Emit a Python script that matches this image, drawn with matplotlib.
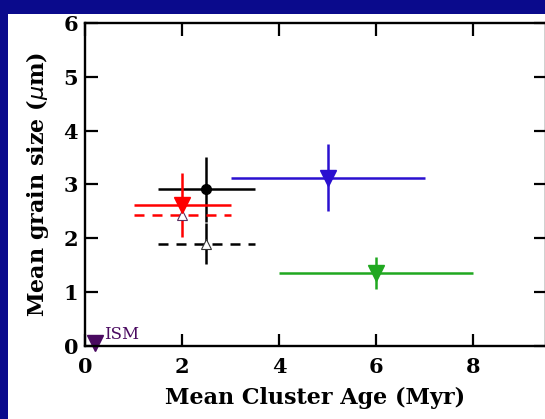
import matplotlib
matplotlib.use("Agg")
import matplotlib.pyplot as plt
from matplotlib.patches import Rectangle

# cluster data: age (Myr), age half-range, grain size (um), size error
blue_x, blue_xerr, blue_y, blue_yerr = 5.0, 2.0, 3.13, 0.62
green_x, green_xerr, green_y, green_yerr = 6.0, 2.0, 1.35, 0.30
red_x, red_xerr, red_y, red_yerr = 2.0, 1.0, 2.62, 0.60
red2_y = 2.44
black_x, black_xerr, black_y, black_yerr = 2.5, 1.0, 2.91, 0.60
black2_y, black2_yerr = 1.90, 0.38
ism_x, ism_y = 0.2, 0.05

fig = plt.figure(figsize=(5.45, 4.19), dpi=100)
fig.patch.set_facecolor('#0a0a8c')
fig.patches.append(Rectangle((8 / 545, 0), 1, (419 - 14) / 419,
                             transform=fig.transFigure, facecolor='white',
                             edgecolor='none', zorder=-5))
ax = fig.add_axes([85 / 545, 73 / 419, 461 / 545, 323 / 419])
ax.set_facecolor('white')

serif = 'DejaVu Serif'
lw = 1.8

# blue and green
ax.errorbar(blue_x, blue_y, xerr=blue_xerr, yerr=blue_yerr, fmt='v',
            color='#2a10d0', ms=12, elinewidth=lw, capsize=0)
ax.errorbar(green_x, green_y, xerr=green_xerr, yerr=green_yerr, fmt='v',
            color='#20a820', ms=12, elinewidth=lw, capsize=0)

# black solid and dashed
ax.errorbar(black_x, black_y, xerr=black_xerr, yerr=black_yerr, fmt='o',
            color='black', ms=7, elinewidth=lw, capsize=0)
ax.plot([black_x - black_xerr, black_x + black_xerr], [black2_y, black2_y],
        color='black', lw=lw, ls=(0, (4, 3.2)))
ax.errorbar(black_x, black2_y, yerr=black2_yerr, fmt='none',
            ecolor='black', elinewidth=lw, capsize=0)
ax.plot(black_x, black2_y, '^', ms=7, mfc='white', mec='#333333', mew=0.8)

# red solid and dashed
ax.plot([red_x - red_xerr, red_x + red_xerr], [red2_y, red2_y],
        color='red', lw=lw, ls=(0, (4, 3.2)))
ax.errorbar(red_x, red_y, xerr=red_xerr, yerr=red_yerr, fmt='v',
            color='red', ms=12, elinewidth=lw, capsize=0)
ax.plot(red_x, red2_y, '^', ms=7, mfc='white', mec='#5a3060', mew=0.8)

# ISM
ax.plot(ism_x, ism_y, 'v', color='#4a0a60', ms=12, clip_on=False)
ax.text(0.4, 0.13, 'ISM', color='#4a0a60', fontsize=12, family=serif)

ax.set_xlim(0, 9.5)
ax.set_ylim(0, 6)
ax.set_xticks([0, 2, 4, 6, 8])
ax.set_yticks([0, 1, 2, 3, 4, 5, 6])
ax.tick_params(direction='in', length=9, width=1.6, top=True, right=True,
               labelsize=15)
ax.tick_params(axis='x', pad=8)
ax.tick_params(axis='y', pad=5)
for lab in ax.get_xticklabels() + ax.get_yticklabels():
    lab.set_family(serif)
    lab.set_fontweight('bold')
for s in ax.spines.values():
    s.set_linewidth(1.7)

ax.set_xlabel('Mean Cluster Age (Myr)', fontsize=16, family=serif,
              fontweight='bold', labelpad=7)
ax.set_ylabel(r'Mean grain size ($\mu$m)', fontsize=16, family=serif,
              fontweight='bold', labelpad=9)

fig.savefig('out.png', dpi=100, facecolor=fig.get_facecolor())
